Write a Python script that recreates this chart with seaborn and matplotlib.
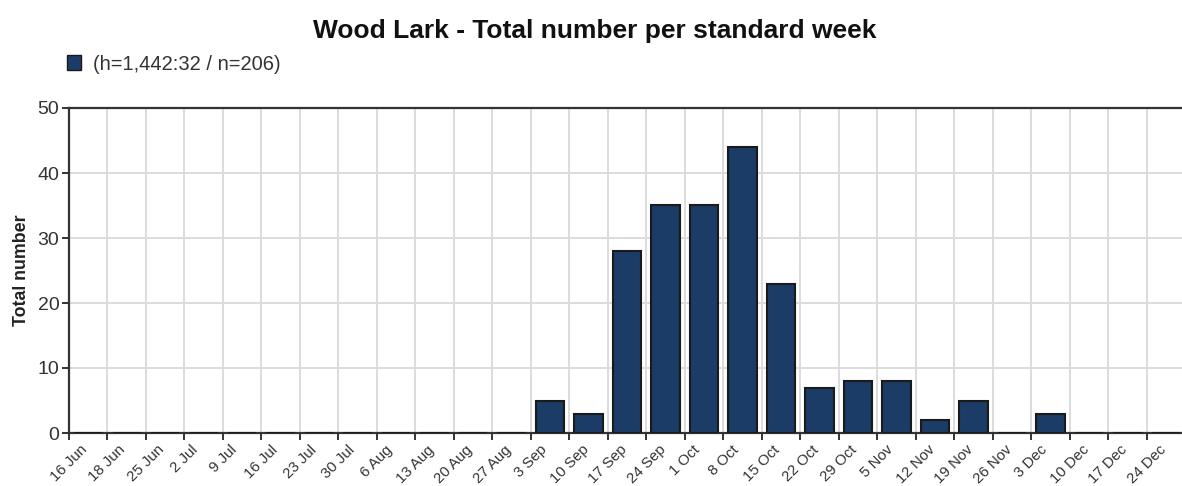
import numpy as np
import pandas as pd
import matplotlib
matplotlib.use("Agg")
import matplotlib.pyplot as plt
from matplotlib.patches import Patch
import seaborn as sns

weeks = ["16 Jun", "18 Jun", "25 Jun", "2 Jul", "9 Jul", "16 Jul", "23 Jul", "30 Jul",
         "6 Aug", "13 Aug", "20 Aug", "27 Aug", "3 Sep", "10 Sep", "17 Sep", "24 Sep",
         "1 Oct", "8 Oct", "15 Oct", "22 Oct", "29 Oct", "5 Nov", "12 Nov", "19 Nov",
         "26 Nov", "3 Dec", "10 Dec", "17 Dec", "24 Dec"]
totals = [0, 0, 0, 0, 0, 0, 0, 0,
          0, 0, 0, 0, 5, 3, 28, 35,
          35, 44, 23, 7, 8, 8, 2, 5,
          0, 3, 0, 0, 0]
yticks = [0, 10, 20, 30, 40, 50]
title = "Wood Lark - Total number per standard week"
legend_label = "(h=1,442:32 / n=206)"
ylabel = "Total number"

sns.set_theme(style="white")
plt.rcParams['font.family'] = ['Liberation Sans', 'DejaVu Sans']

df = pd.DataFrame({"week": weeks, "total": totals})

fig = plt.figure(figsize=(11.82, 4.86), dpi=100)
ax = fig.add_axes([69/1182, 1 - 433/486, 1 - 69/1182, (433 - 108)/486])

bar_color = "#1b3c66"
sns.barplot(data=df, x="week", y="total", order=weeks, color=bar_color,
            edgecolor="#1a1a1a", linewidth=1.5, width=0.74, saturation=1,
            ax=ax, zorder=3)

n = len(weeks)
ax.set_xticks(np.arange(n) - 0.5)
ax.set_xticklabels(weeks, rotation=45, ha="center", va="top",
                   fontsize=10.8, color="#333333")
ax.set_xlim(-0.5, 28.41)
ax.set_ylim(0, 50)
ax.set_yticks(yticks)
ax.set_yticklabels([str(v) for v in yticks], fontsize=14, color="#333333")

ax.grid(True, axis="both", color="#dcdcdc", linewidth=1.4, zorder=0)
ax.set_axisbelow(True)

for s in ["left", "bottom", "top"]:
    ax.spines[s].set_visible(True)
    ax.spines[s].set_color("#333333")
    ax.spines[s].set_linewidth(1.6)
ax.spines["right"].set_visible(False)

ax.tick_params(axis="y", which="major", direction="out", length=5, width=1.4,
               color="#333333", left=True, pad=2)
ax.tick_params(axis="x", which="major", direction="out", length=5, width=1.4,
               color="#333333", bottom=True, pad=2)

ax.set_xlabel("")
ax.set_ylabel(ylabel, fontsize=12.8, fontweight="bold", color="#222222", labelpad=5)

fig.text(595/1182, 1 - 31/486, title, ha="center", va="center",
         fontsize=19, fontweight="bold", color="#111111")

handles = [Patch(facecolor=bar_color, edgecolor="#1a1a1a", linewidth=1.0)]
fig.legend(handles, [legend_label], loc="center left",
           bbox_to_anchor=(49/1182, 1 - 64/486), frameon=False,
           handlelength=0.7, handleheight=0.7, handletextpad=0.6,
           fontsize=14.5, labelcolor="#333333")

fig.savefig("out.png", dpi=100)
